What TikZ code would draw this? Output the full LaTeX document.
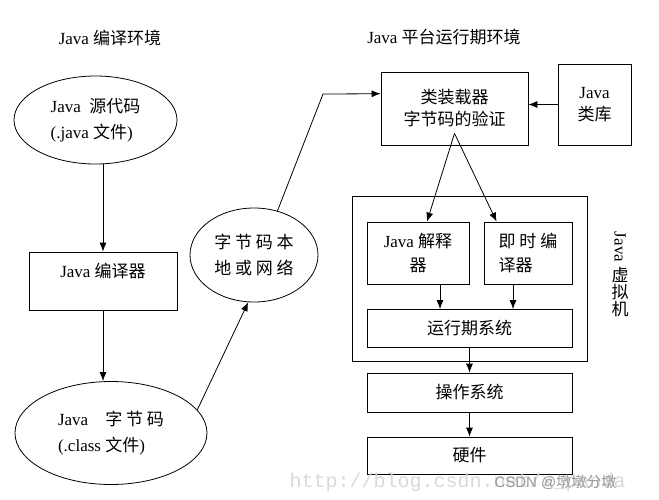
\documentclass[tikz,border=0pt]{standalone}
\usepackage{fontspec}
\setmainfont{Liberation Serif}
\newfontfamily\cjk{Noto Sans CJK SC}
\newfontfamily\urlfont{Liberation Mono}
\newfontfamily\wmfont{Liberation Sans}
\usetikzlibrary{arrows.meta,calc,shapes.geometric}
\newcommand\zh[1]{{\cjk #1}}
\tikzset{
	kasten/.style={draw, line width=0.8pt, inner sep=0pt, align=center},
	oval/.style={draw, ellipse, line width=0.8pt, inner sep=0pt, align=left},
	pfeil/.style={line width=0.8pt, -{Latex[length=9pt,width=7pt]}}
}
\begin{document}
\begin{tikzpicture}[x=1pt, y=-1pt, font=\fontsize{17}{26}\selectfont]
\useasboundingbox (0,0) rectangle (659,499);
% Ueberschriften
\node (t1) at (110,38) {Java \zh{编译环境}};
\node (t2) at (444,37) {Java \zh{平台运行期环境}};
% linke Seite
\node[oval, minimum width=163, minimum height=88] (src) at (95.5,120) {Java\ \ \zh{源代码}\\(.java \zh{文件})};
\node[kasten, minimum width=148, minimum height=58] (comp) at (103,281) {};
\node (comptxt) at (103,271) {Java \zh{编译器}};
\node[oval, minimum width=192, minimum height=103] (bc) at (111,433) {Java\quad\zh{字 节 码}\\(.class \zh{文件})};
\node[oval, minimum width=128, minimum height=94, align=center] (net) at (254,255) {\zh{字 节 码 本}\\\zh{地 或 网 络}};
% rechte Seite
\node[kasten, minimum width=147, minimum height=73] (cl) at (454.5,108.5) {\zh{类装载器}\\[-4pt]\zh{字节码的验证}};
\node[kasten, minimum width=73, minimum height=81] (lib) at (594.5,104.5) {Java\\[-4pt]\zh{类库}};
\node[kasten, minimum width=235, minimum height=165] (jvm) at (469.5,278.5) {};
\node[kasten, minimum width=102, minimum height=62] (interp) at (418,253) {Java \zh{解释}\\[-2pt]\zh{器}};
\node[kasten, minimum width=88, minimum height=62, align=left] (jit) at (528,253) {\zh{即 时 编}\\[-2pt]\zh{译器}};
\node[kasten, minimum width=205, minimum height=38] (rt) at (469.5,328.5) {\zh{运行期系统}};
\node[kasten, minimum width=205, minimum height=39] (os) at (469.5,392.5) {\zh{操作系统}};
\node[kasten, minimum width=205, minimum height=37] (hw) at (469.5,455.5) {\zh{硬件}};
\node[rotate=-90] (jvmtxt) at (620,247) {Java};
\node[align=center, font=\fontsize{17}{17}\selectfont] (jvmzh) at (620,292) {\zh{虚}\\\zh{拟}\\\zh{机}};
% Pfeile
\coordinate (bend) at (323,94);
\coordinate (in) at ($(cl.north west)!0.3!(cl.south west)$);
\coordinate (split) at ($(cl.south)+(0,-12)$);
\coordinate (ia) at ($(interp.south)+(22,0)$);
\coordinate (ja) at ($(jit.south)+(-15,0)$);
\draw[pfeil] (comp.north |- src.south) -- (comp.north);
\draw[pfeil] (comp.south) -- (comp.south |- bc.north);
\draw[pfeil] (bc.15) -- (net.263);
\draw[pfeil] (net.62) -- (bend) -- (in);
\draw[pfeil] (lib.west) -- (lib.west -| cl.east);
\draw[pfeil] (split) -- ($(interp.north)+(9,0)$);
\draw[pfeil] (split) -- ($(jit.north west)+(13,0)$);
\draw[pfeil] (ia) -- (ia |- rt.north);
\draw[pfeil] (ja) -- (ja |- rt.north);
\draw[pfeil] (rt.south) -- (os.north);
\draw[pfeil] (os.south) -- (hw.north);
% Wasserzeichen
\node[anchor=west, text=gray!30, font=\fontsize{20}{20}\urlfont] (url) at (286,482) {http://blog.csdn.net/x\_panda};
\node[anchor=west, text=gray!80, font=\fontsize{15}{15}\wmfont] (csdn) at (491,482) {CSDN @\zh{墩墩分墩}};
\end{tikzpicture}
\end{document}
